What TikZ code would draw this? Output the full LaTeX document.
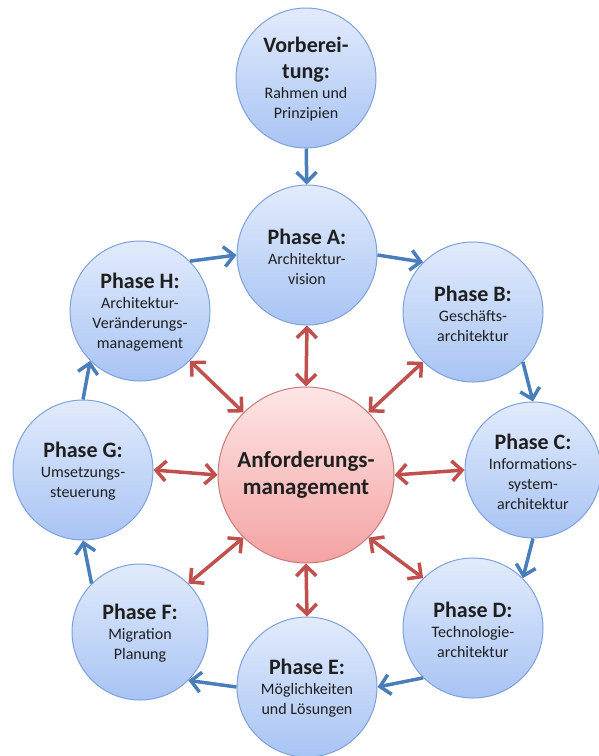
\documentclass[tikz,border=0pt]{standalone}
\usepackage{fontspec}
\setmainfont{Carlito}
\usetikzlibrary{arrows.meta}
\definecolor{phasetop}{HTML}{E2EBFC}
\definecolor{phasebot}{HTML}{A8C4F4}
\definecolor{phaseline}{HTML}{7DA1D8}
\definecolor{hubtop}{HTML}{FEE6E6}
\definecolor{hubbot}{HTML}{F4A2A2}
\definecolor{hubline}{HTML}{C97B7B}
\definecolor{flowblue}{HTML}{4A7EBB}
\definecolor{linkred}{HTML}{C0504D}
\newcommand{\phasetext}[2]{\raisebox{-4pt}[0pt][0pt]{\makebox[0pt]{\parbox{130pt}{\centering\fontsize{22}{26}\selectfont\bfseries #1\\
  \fontsize{16}{20}\selectfont\mdseries #2}}}}
\tikzset{
  phase/.style={circle,draw=phaseline,line width=1pt,top color=phasetop,bottom color=phasebot,
    minimum size=140pt,inner sep=0pt,text=black!88},
  hub/.style={circle,draw=hubline,line width=1pt,top color=hubtop,bottom color=hubbot,
    minimum size=176pt,inner sep=0pt,align=center,text=black!88,
    font=\fontsize{23}{27}\selectfont\bfseries},
  flow/.style={draw=flowblue,line width=3.5pt,-{Straight Barb[length=10pt,width=20pt]}},
  link/.style={draw=linkred,line width=3.5pt,{Straight Barb[length=10pt,width=20pt]}-{Straight Barb[length=10pt,width=20pt]}}
}
\begin{document}
\begin{tikzpicture}[x=1pt,y=-1pt]
\useasboundingbox (0,0) rectangle (598,756);
\node[phase] (prep) at (306,78) {\phasetext{Vorberei-\\tung:}{Rahmen und\\Prinzipien}};
\node[phase] (pA) at (307,255) {\phasetext{Phase A:}{Architektur-\\vision}};
\node[phase] (pB) at (473,312) {\phasetext{Phase B:}{Geschäfts-\\architektur}};
\node[phase,minimum size=136pt] (pC) at (533,470) {\phasetext{Phase C:}{Informations-\\system-\\architektur}};
\node[phase] (pD) at (473,628) {\phasetext{Phase D:}{Technologie-\\architektur}};
\node[phase] (pE) at (307,687) {\phasetext{Phase E:}{Möglichkeiten\\und Lösungen}};
\node[phase,minimum size=136pt] (pF) at (140,632) {\phasetext{Phase F:}{Migration\\Planung}};
\node[phase] (pG) at (83,470) {\phasetext{Phase G:}{Umsetzungs-\\steuerung}};
\node[phase] (pH) at (140,311) {\phasetext{Phase H:}{Architektur-\\Veränderungs-\\management}};
\node[hub] (req) at (306,475) {Anforderungs-\\management};

\draw[flow] (prep) -- (pA);
\draw[flow] (pA.east) -- (pB.135);
\draw[flow] (pB.-45) -- (pC.north);
\draw[flow] (pC.south) -- (pD.45);
\draw[flow] (pD.-135) -- (pE.east);
\draw[flow] (pE.west) -- (pF.-45);
\draw[flow] (pF.135) -- (pG.south);
\draw[flow] (pG.north) -- (pH.-135);
\draw[flow] (pH.45) -- (pA.west);

\draw[link] (req.90) -- (pA.-90);
\draw[link] (req.45) -- (pB.-135);
\draw[link] (req.0) -- (pC.180);
\draw[link] (req.-45) -- (pD.135);
\draw[link] (req.-90) -- (pE.90);
\draw[link] (req.-135) -- (pF.45);
\draw[link] (req.180) -- (pG.0);
\draw[link] (req.135) -- (pH.-45);
\end{tikzpicture}
\end{document}
